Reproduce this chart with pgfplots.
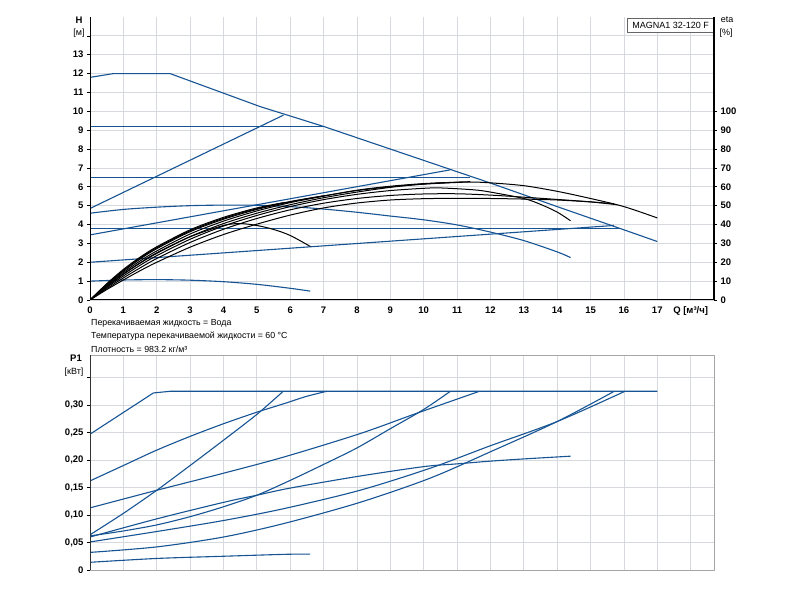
\documentclass[border=0pt]{standalone}
\usepackage{fontspec}
\setmainfont{Liberation Sans}
\usepackage{pgfplots}
\pgfplotsset{compat=1.18}
\definecolor{pblue}{RGB}{22,84,148}
\definecolor{gridc}{RGB}{214,217,221}
\begin{document}
\begin{tikzpicture}
\useasboundingbox (0pt,0pt) rectangle (800pt,600pt);
\fill[white] (0pt,0pt) rectangle (800pt,600pt);

% ---------------- top: H ----------------
\begin{axis}[
  at={(90pt,300pt)}, anchor=south west, scale only axis,
  width=624pt, height=283pt,
  xmin=0, xmax=18.7, ymin=0, ymax=15,
  xtick={0,1,2,3,4,5,6,7,8,9,10,11,12,13,14,15,16,17,18},
  xticklabels={0,1,2,3,4,5,6,7,8,9,10,11,12,13,14,15,16,17,{Q [м³/ч]}},
  ytick={0,1,2,3,4,5,6,7,8,9,10,11,12,13,14},
  yticklabels={0,1,2,3,4,5,6,7,8,9,10,11,12,13,{}},
  grid=major, major grid style={gridc, line width=0.8pt},
  axis line style={draw=none},
  xtick style={draw=none},
  ytick style={black, line width=0.6pt}, ytick pos=left,
  tick align=outside, major tick length=3pt,
  ticklabel style={font=\bfseries\fontsize{9.5}{10}\selectfont},
]
% blue H curves
\addplot[pblue, line width=1.1pt, mark=none] coordinates {(0,11.8)(0.7,12.0)(2.4,12.0)(5.1,10.25)(7,9.2)(9,8.0)(11,6.8)(12,6.2)(14,4.95)(16,3.72)(17,3.1)};
\addplot[pblue, line width=1.1pt, mark=none] coordinates {(0,9.2)(7,9.2)};
\addplot[pblue, line width=1.1pt, mark=none] coordinates {(0,6.5)(11.4,6.5)};
\addplot[pblue, line width=1.1pt, mark=none] coordinates {(0,3.8)(15.9,3.8)};
\addplot[pblue, line width=1.1pt, mark=none] coordinates {(0,4.85)(5.8,9.8)};
\addplot[pblue, line width=1.1pt, mark=none] coordinates {(0,3.45)(10.8,6.9)};
\addplot[pblue, line width=1.1pt, mark=none] coordinates {(0,2.0)(15.7,3.95)};
\addplot[pblue, line width=1.1pt, mark=none, smooth] coordinates {(0,4.6)(1,4.8)(2,4.92)(3,5.0)(4,5.03)(5,5.02)(6,4.95)(7,4.82)(8,4.65)(9,4.45)(10,4.25)(11,3.98)(12,3.6)(13,3.15)(14,2.55)(14.4,2.25)};
\addplot[pblue, line width=1.1pt, mark=none, smooth] coordinates {(0,1.0)(1,1.06)(2,1.08)(3,1.05)(4,0.97)(5,0.83)(6,0.62)(6.6,0.47)};
% black efficiency curves (eta/10)
\addplot[black, line width=1pt, mark=none, smooth] coordinates {(0,0)(0.5,0.8)(1,1.52)(1.5,2.17)(2,2.72)(3,3.62)(4,4.28)(5,4.8)(6,5.2)(7,5.52)(8,5.8)(9,6.0)(10,6.14)(11,6.23)(11.5,6.25)(12,6.21)(13,6.06)(14,5.76)(15,5.38)(16,4.95)(17,4.35)};
\addplot[black, line width=1pt, mark=none, smooth] coordinates {(0,0)(0.5,0.86)(1,1.62)(1.5,2.27)(2,2.82)(3,3.72)(4,4.38)(5,4.88)(5.8,5.16)};
\addplot[black, line width=1pt, mark=none, smooth] coordinates {(0,0)(0.5,0.83)(1,1.57)(1.5,2.22)(2,2.77)(3,3.67)(4,4.33)(5,4.84)(6,5.22)(7,5.52)};
\addplot[black, line width=1pt, mark=none, smooth] coordinates {(0,0)(0.5,0.76)(1,1.45)(1.5,2.07)(2,2.6)(3,3.5)(4,4.18)(5,4.72)(6,5.16)(7,5.5)(8,5.82)(9,6.03)(10,6.17)(10.8,6.23)};
\addplot[black, line width=1pt, mark=none, smooth] coordinates {(0,0)(0.5,0.7)(1,1.36)(1.5,1.95)(2,2.47)(3,3.36)(4,4.05)(5,4.6)(6,5.05)(7,5.42)(8,5.72)(9,5.97)(10,6.15)(11,6.25)(11.4,6.27)};
\addplot[black, line width=1pt, mark=none, smooth] coordinates {(0,0)(0.5,0.66)(1,1.27)(1.5,1.84)(2,2.35)(3,3.22)(4,3.92)(5,4.48)(6,4.95)(7,5.32)(8,5.6)(9,5.8)(10,5.92)(10.5,5.94)(11.5,5.84)(12,5.72)(13,5.38)(13.5,5.07)(14,4.66)(14.4,4.2)};
\addplot[black, line width=1pt, mark=none, smooth] coordinates {(0,0)(0.5,0.6)(1,1.17)(1.5,1.7)(2,2.2)(3,3.05)(4,3.75)(5,4.32)(6,4.78)(7,5.13)(8,5.38)(9,5.54)(10,5.62)(11,5.63)(12,5.56)(13,5.45)(14,5.33)(15,5.2)(15.8,5.05)};
\addplot[black, line width=1pt, mark=none, smooth] coordinates {(0,0)(0.5,0.55)(1,1.06)(1.5,1.55)(2,2.0)(3,2.8)(4,3.47)(5,4.02)(6,4.5)(7,4.88)(8,5.14)(9,5.3)(10,5.37)(11,5.39)(12,5.38)(13,5.35)(14,5.3)(15,5.2)(15.7,5.1)};
\addplot[black, line width=1pt, mark=none, smooth] coordinates {(0,0)(0.5,0.72)(1,1.38)(1.5,1.97)(2,2.5)(3,3.35)(4,3.95)(4.5,4.05)(5,3.95)(5.5,3.74)(6,3.42)(6.6,2.84)};
% axis lines
\draw[black, line width=1pt] (rel axis cs:0,1) -- (rel axis cs:0,0);
\draw[black, line width=1.8pt] (rel axis cs:0,0) -- (rel axis cs:1,0);
\node[draw=gray!80!black, line width=0.6pt, fill=white, anchor=north east, inner sep=0pt,
  minimum width=86pt, minimum height=14pt, font=\fontsize{9}{10}\selectfont]
  at ([yshift=-1pt]rel axis cs:1,1) {MAGNA1 32-120 F};
\end{axis}

% right eta axis
\begin{axis}[
  at={(90pt,300pt)}, anchor=south west, scale only axis,
  width=624pt, height=283pt,
  xmin=0, xmax=18.7, ymin=0, ymax=150,
  hide x axis, axis y line*=right,
  axis line style={black, line width=1.2pt, -},
  ytick={0,10,20,30,40,50,60,70,80,90,100},
  yticklabels={0,10,20,30,40,50,60,70,80,90,100},
  ytick style={black, line width=0.6pt},
  tick align=outside, major tick length=3pt,
  ticklabel style={font=\bfseries\fontsize{9.5}{10}\selectfont},
]
\end{axis}

% ---------------- bottom: P1 ----------------
\begin{axis}[
  at={(90pt,30pt)}, anchor=south west, scale only axis,
  width=624pt, height=215pt,
  xmin=0, xmax=18.7, ymin=0, ymax=0.391,
  xtick={0,1,2,3,4,5,6,7,8,9,10,11,12,13,14,15,16,17,18},
  xticklabels={},
  ytick={0,0.05,0.1,0.15,0.2,0.25,0.3,0.35},
  yticklabels={0,{0,05},{0,10},{0,15},{0,20},{0,25},{0,30},{}},
  grid=major, major grid style={gridc, line width=0.8pt},
  axis line style={gray!70, line width=0.8pt},
  xtick style={draw=none},
  ytick style={black, line width=0.6pt}, ytick pos=left,
  tick align=outside, major tick length=3pt,
  ticklabel style={font=\bfseries\fontsize{9.5}{10}\selectfont},
]
\addplot[pblue, line width=1.1pt, mark=none] coordinates {(0,0.247)(1.9,0.322)(2.4,0.325)(17,0.325)};
\addplot[pblue, line width=1.1pt, mark=none, smooth] coordinates {(0,0.162)(1,0.19)(2,0.218)(3,0.243)(4,0.266)(5,0.287)(5.84,0.303)(6.5,0.316)(7.1,0.325)};
\addplot[pblue, line width=1.1pt, mark=none, smooth] coordinates {(0,0.064)(1,0.103)(2,0.145)(3,0.19)(4,0.236)(5,0.283)(5.79,0.325)};
\addplot[pblue, line width=1.1pt, mark=none, smooth] coordinates {(0,0.113)(2,0.145)(4,0.176)(5.84,0.206)(8.09,0.248)(9.79,0.285)(11.67,0.325)};
\addplot[pblue, line width=1.1pt, mark=none, smooth] coordinates {(0,0.062)(1,0.071)(2,0.082)(3,0.097)(4,0.115)(5,0.136)(6,0.163)(7,0.192)(8,0.222)(9,0.257)(10,0.292)(10.8,0.325)};
\addplot[pblue, line width=1.1pt, mark=none, smooth] coordinates {(0,0.06)(2,0.093)(4,0.123)(5,0.136)(6,0.149)(8,0.17)(10,0.188)(11,0.193)(12,0.198)(13,0.202)(14.4,0.207)};
\addplot[pblue, line width=1.1pt, mark=none, smooth] coordinates {(0,0.051)(2,0.07)(4,0.09)(5.84,0.112)(8.09,0.145)(10.19,0.185)(12,0.226)(14,0.27)(16.03,0.325)};
\addplot[pblue, line width=1.1pt, mark=none, smooth] coordinates {(0,0.032)(2,0.042)(4,0.06)(5.84,0.085)(8.09,0.123)(10.19,0.167)(12,0.215)(14,0.27)(15.71,0.325)};
\addplot[pblue, line width=1.1pt, mark=none, smooth] coordinates {(0,0.014)(2,0.021)(4,0.025)(5.84,0.0285)(6.6,0.029)};
\draw[black!80, line width=1pt] (rel axis cs:0,1) -- (rel axis cs:0,0);
\end{axis}

% labels
\node[font=\bfseries\fontsize{9.5}{10}\selectfont] at (79pt,580pt) {H};
\node[font=\fontsize{9}{10}\selectfont] at (79pt,567pt) {[м]};
\node[font=\fontsize{9}{10}\selectfont] at (727pt,580pt) {eta};
\node[font=\fontsize{9}{10}\selectfont] at (726pt,567pt) {[\%]};
\node[font=\bfseries\fontsize{9.5}{10}\selectfont] at (76pt,242pt) {P1};
\node[font=\fontsize{9}{10}\selectfont] at (74pt,228pt) {[кВт]};
\node[anchor=west, font=\fontsize{8.8}{10}\selectfont, inner sep=0pt] at (91pt,277pt) {Перекачиваемая жидкость = Вода};
\node[anchor=west, font=\fontsize{8.8}{10}\selectfont, inner sep=0pt] at (91pt,264pt) {Температура перекачиваемой жидкости = 60 °C};
\node[anchor=west, font=\fontsize{8.8}{10}\selectfont, inner sep=0pt] at (91pt,251pt) {Плотность = 983.2 кг/м³};
\end{tikzpicture}
\end{document}
